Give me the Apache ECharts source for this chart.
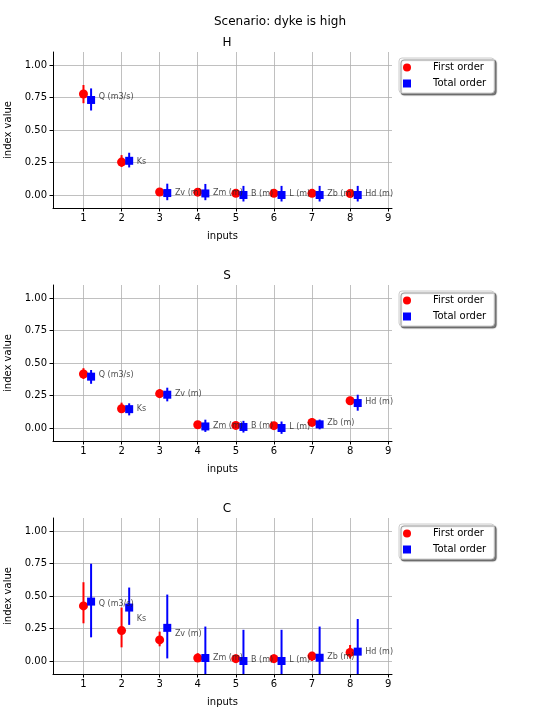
<!DOCTYPE html>
<html>
<head>
<meta charset="utf-8">
<script src="https://cdn.jsdelivr.net/npm/echarts@6/dist/echarts.min.js"></script>
<style>html,body{margin:0;padding:0;background:#fff}#c{width:560px;height:720px}</style>
</head>
<body>
<div id="c"></div>
<script>
// ---- data ----
const inputs = ['Q (m3/s)', 'Ks', 'Zv (m)', 'Zm (m)', 'B (m)', 'L (m)', 'Zb (m)', 'Hd (m)'];
const xTicks = [1, 2, 3, 4, 5, 6, 7, 8, 9];
const yTicks = [0, 0.25, 0.5, 0.75, 1.0];
const panelNames = ['H', 'S', 'C'];

const H_first     = [0.777, 0.253, 0.023, 0.022, 0.013, 0.013, 0.013, 0.011];
const H_firstLow  = [0.706, 0.215, 0.008, 0.007, 0.000, 0.000, 0.000, 0.000];
const H_firstHigh = [0.846, 0.307, 0.040, 0.038, 0.028, 0.028, 0.028, 0.025];
const H_total     = [0.731, 0.263, 0.015, 0.012, 0.000, 0.000, 0.000, 0.000];
const H_totalLow  = [0.650, 0.212, -0.040, -0.040, -0.050, -0.050, -0.050, -0.050];
const H_totalHigh = [0.820, 0.325, 0.087, 0.085, 0.070, 0.070, 0.070, 0.070];

const S_first     = [0.415, 0.148, 0.264, 0.025, 0.020, 0.018, 0.043, 0.210];
const S_firstLow  = [0.377, 0.128, 0.240, 0.010, 0.005, 0.003, 0.025, 0.180];
const S_firstHigh = [0.460, 0.195, 0.300, 0.045, 0.040, 0.040, 0.075, 0.240];
const S_total     = [0.395, 0.145, 0.256, 0.012, 0.008, 0.000, 0.028, 0.192];
const S_totalLow  = [0.340, 0.097, 0.205, -0.030, -0.035, -0.045, -0.010, 0.133];
const S_totalHigh = [0.446, 0.190, 0.310, 0.064, 0.055, 0.050, 0.065, 0.256];

const C_first     = [0.424, 0.234, 0.162, 0.023, 0.018, 0.018, 0.038, 0.066];
const C_firstLow  = [0.290, 0.105, 0.113, -0.005, -0.010, -0.010, 0.000, 0.020];
const C_firstHigh = [0.606, 0.411, 0.226, 0.060, 0.050, 0.050, 0.070, 0.123];
const C_total     = [0.457, 0.411, 0.255, 0.023, 0.000, 0.000, 0.025, 0.072];
const C_totalLow  = [0.182, 0.278, 0.020, -0.220, -0.240, -0.240, -0.220, -0.180];
const C_totalHigh = [0.748, 0.565, 0.511, 0.265, 0.240, 0.240, 0.265, 0.323];

// ---- layout / style ----
const FONT = 'DejaVu Sans';
const XMIN = 0.2, XMAX = 9.1, YMIN = -0.1, YMAX = 1.1;
const TOTAL_SHIFT = 0.2, LABEL_SHIFT = 0.4;
const RED = '#ff0000', BLUE = '#0000ff';
const gridTops = [52, 285, 518];
const panels = [
  {first: H_first, firstLow: H_firstLow, firstHigh: H_firstHigh, total: H_total, totalLow: H_totalLow, totalHigh: H_totalHigh},
  {first: S_first, firstLow: S_firstLow, firstHigh: S_firstHigh, total: S_total, totalLow: S_totalLow, totalHigh: S_totalHigh},
  {first: C_first, firstLow: C_firstLow, firstHigh: C_firstHigh, total: C_total, totalLow: C_totalLow, totalHigh: C_totalHigh}
];

function errRender(color) {
  return function (params, api) {
    const x = api.value(0);
    const lo = Math.max(api.value(1), YMIN), hi = Math.min(api.value(2), YMAX);
    const p1 = api.coord([x, lo]), p2 = api.coord([x, hi]);
    return {type: 'line', shape: {x1: p1[0], y1: p1[1], x2: p2[0], y2: p2[1]},
            style: {stroke: color, lineWidth: 2}};
  };
}

const grids = [], xAxes = [], yAxes = [], series = [], legends = [];
const titles = [{text: 'Scenario: dyke is high', left: 'center', top: 11,
  textStyle: {fontFamily: FONT, fontSize: 12, fontWeight: 'normal', color: '#000'}}];

panels.forEach((p, i) => {
  grids.push({left: 53, right: 168, top: gridTops[i], height: 156, show: false,
    containLabel: false, outerBoundsMode: 'none'});
  titles.push({text: panelNames[i], left: 222, textAlign: 'center', top: gridTops[i] - 20,
    textStyle: {fontFamily: FONT, fontSize: 12, fontWeight: 'normal', color: '#000'}});
  xAxes.push({gridIndex: i, type: 'value', min: XMIN, max: XMAX,
    name: 'inputs', nameLocation: 'middle', nameGap: 23,
    nameTextStyle: {fontFamily: FONT, fontSize: 10, color: '#000'},
    axisLine: {show: true, onZero: false, lineStyle: {color: '#000', width: 1}},
    axisTick: {show: true, length: 3.5, customValues: xTicks, lineStyle: {color: '#000'}},
    axisLabel: {customValues: xTicks, fontFamily: FONT, fontSize: 10, color: '#000', margin: 5},
    splitLine: {show: true, lineStyle: {color: '#b0b0b0', width: 0.8}}});
  yAxes.push({gridIndex: i, type: 'value', min: YMIN, max: YMAX,
    name: 'index value', nameLocation: 'middle', nameGap: 35, nameRotate: 90,
    nameTextStyle: {fontFamily: FONT, fontSize: 10, color: '#000'},
    axisLine: {show: true, onZero: false, lineStyle: {color: '#000', width: 1}},
    axisTick: {show: true, length: 3.5, customValues: yTicks, lineStyle: {color: '#000'}},
    axisLabel: {customValues: yTicks, fontFamily: FONT, fontSize: 10, color: '#000', margin: 6,
      formatter: v => Number(v).toFixed(2)},
    splitLine: {show: true, lineStyle: {color: '#b0b0b0', width: 0.8}}});

  const xf = inputs.map((_, k) => k + 1);
  series.push({type: 'custom', name: 'First order', xAxisIndex: i, yAxisIndex: i,
    renderItem: errRender(RED), itemStyle: {color: RED},
    encode: {x: 0, y: [1, 2]},
    data: xf.map((x, k) => [x, p.firstLow[k], p.firstHigh[k]]), z: 2});
  series.push({type: 'custom', name: 'Total order', xAxisIndex: i, yAxisIndex: i,
    renderItem: errRender(BLUE), itemStyle: {color: BLUE},
    encode: {x: 0, y: [1, 2]},
    data: xf.map((x, k) => [x + TOTAL_SHIFT, p.totalLow[k], p.totalHigh[k]]), z: 2});
  series.push({type: 'scatter', name: 'First order', xAxisIndex: i, yAxisIndex: i,
    symbol: 'circle', symbolSize: 9, itemStyle: {color: RED, opacity: 1},
    data: xf.map((x, k) => [x, p.first[k]]), z: 3});
  series.push({type: 'scatter', name: 'Total order', xAxisIndex: i, yAxisIndex: i,
    symbol: 'rect', symbolSize: 8, itemStyle: {color: BLUE, opacity: 1},
    data: xf.map((x, k) => [x + TOTAL_SHIFT, p.total[k]]), z: 3});
  series.push({type: 'scatter', name: 'labels' + i, xAxisIndex: i, yAxisIndex: i,
    symbolSize: 0, silent: true,
    data: xf.map((x, k) => ({value: [x + LABEL_SHIFT, (p.first[k] + p.total[k]) / 2], name: inputs[k]})),
    label: {show: true, position: 'right', distance: 0, formatter: d => d.name,
      fontFamily: FONT, fontSize: 8, color: '#222'}, z: 4});

  legends.push({orient: 'vertical', left: 399, top: gridTops[i] + 6,
    data: [{name: 'First order', icon: 'circle'}, {name: 'Total order', icon: 'rect'}],
    itemWidth: 8, itemHeight: 8, itemGap: 3, padding: [3, 8, 3, 4],
    backgroundColor: '#fff', borderColor: '#cccccc', borderWidth: 1, borderRadius: 3,
    shadowColor: 'rgba(0,0,0,0.5)', shadowBlur: 1, shadowOffsetX: 2, shadowOffsetY: 2,
    selectedMode: false,
    textStyle: {fontFamily: FONT, fontSize: 10, color: '#000', lineHeight: 13, padding: [0, 0, 0, 17]}});
});

const chart = echarts.init(document.getElementById('c'), null, {renderer: 'canvas'});
chart.setOption({
  animation: false,
  backgroundColor: '#fff',
  title: titles, grid: grids, xAxis: xAxes, yAxis: yAxes, legend: legends, series: series
});
</script>
</body>
</html>
